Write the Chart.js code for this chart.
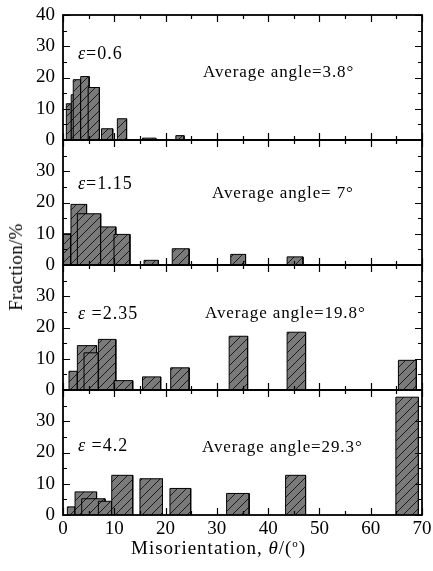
<html>
<head>
    <script src="https://cdn.jsdelivr.net/npm/chart.js"></script>
    <style>
        body { margin: 0; background: white; font-family: 'Liberation Serif', serif; }
        #page { position: relative; width: 433px; height: 571px; overflow: hidden; }
        .panel { position: absolute; left: 0; }
        .panel canvas { display: block; }
        .lbl { position: absolute; font-size: 17px; color: #000; white-space: nowrap; transform: translateY(-50%); }
        .eps { font-size: 18px; letter-spacing: 1px; }
        .avg { letter-spacing: 0.9px; }
        #xtitle { position: absolute; left: 131px; top: 537px; font-size: 19px; letter-spacing: 1px; white-space: nowrap; }
        #ytitle { position: absolute; left: 16px; top: 267px; font-size: 19px; letter-spacing: 0.3px; white-space: nowrap;
                  transform: translate(-50%, -50%) rotate(-90deg); }
    </style>
</head>
<body>
<div id="page">
    <div class="panel" style="top:3px"><canvas id="c0" width="433" height="149"></canvas></div>
    <div class="panel" style="top:128px"><canvas id="c1" width="433" height="149"></canvas></div>
    <div class="panel" style="top:253px"><canvas id="c2" width="433" height="149"></canvas></div>
    <div class="panel" style="top:378px"><canvas id="c3" width="433" height="179"></canvas></div>

    <div class="lbl eps" style="left:78px; top:53px"><i>ε</i>=0.6</div>
    <div class="lbl eps" style="left:78px; top:183px"><i>ε</i>=1.15</div>
    <div class="lbl eps" style="left:78px; top:313px"><i>ε</i> =2.35</div>
    <div class="lbl eps" style="left:78px; top:445px"><i>ε</i> =4.2</div>

    <div class="lbl avg" style="left:203px; top:72px">Average angle=3.8°</div>
    <div class="lbl avg" style="left:212px; top:193px">Average angle= 7°</div>
    <div class="lbl avg" style="left:205px; top:313px">Average angle=19.8°</div>
    <div class="lbl avg" style="left:202px; top:447px">Average angle=29.3°</div>

    <div id="xtitle">Misorientation, <i>θ</i>/(<sup style="font-size:11px">o</sup>)</div>
    <div id="ytitle">Fraction/%</div>
</div>

<script>
    // misorientation bins (degrees) and fraction (%) for each strain
    const lo06   = [0.65, 1.6, 2.0, 3.45, 4.9, 7.5, 10.6, 15.5, 22.0];
    const hi06   = [1.65, 3.0, 3.45, 5.1, 7.1, 9.7, 12.4, 18.1, 23.6];
    const frac06 = [11.6, 14.5, 19.3, 20.3, 16.8, 3.6, 6.8, 0.6, 1.4];

    const lo115   = [0.0, 1.55, 2.8, 7.35, 9.95, 15.8, 21.3, 32.7, 43.7];
    const hi115   = [1.5, 4.6, 7.35, 10.3, 13.05, 18.6, 24.6, 35.6, 46.8];
    const frac115 = [10.0, 19.4, 16.4, 12.2, 9.8, 1.5, 5.2, 3.4, 2.6];

    const lo235   = [1.17, 2.8, 4.1, 6.9, 9.95, 15.5, 21.0, 32.4, 43.7, 65.4];
    const hi235   = [2.8, 6.55, 6.9, 10.3, 13.6, 19.05, 24.6, 36.0, 47.3, 68.9];
    const frac235 = [6.0, 14.2, 11.9, 16.2, 3.0, 4.2, 7.1, 17.2, 18.5, 9.5];

    const lo42   = [0.85, 2.35, 3.65, 6.9, 9.5, 15.0, 20.85, 31.9, 43.4, 64.9];
    const hi42   = [2.35, 6.55, 8.2, 9.5, 13.6, 19.4, 24.9, 36.3, 47.3, 69.3];
    const frac42 = [2.6, 7.4, 5.2, 4.4, 12.7, 11.6, 8.5, 6.9, 12.7, 37.7];

    const xTicksMax = 70;
    const yTicksMax = 40;

    // gray fill with black "///" hatching
    function makeHatch() {
        const s = 9;
        const c = document.createElement('canvas');
        c.width = s; c.height = s;
        const g = c.getContext('2d');
        g.fillStyle = '#7a7a7a';
        g.fillRect(0, 0, s, s);
        g.strokeStyle = '#111';
        g.lineWidth = 0.9;
        g.beginPath();
        g.moveTo(0, s); g.lineTo(s, 0);
        g.moveTo(-1, 1); g.lineTo(1, -1);
        g.moveTo(s - 1, s + 1); g.lineTo(s + 1, s - 1);
        g.stroke();
        return g.createPattern(c, 'repeat');
    }
    const hatch = makeHatch();

    function barSets(lo, hi, frac) {
        return frac.map((f, k) => ({
            data: [{x: lo[k], y: 0}, {x: lo[k], y: f}, {x: hi[k], y: f}, {x: hi[k], y: 0}],
            fill: 'origin',
            backgroundColor: hatch,
            borderColor: '#000',
            borderWidth: 1,
            pointRadius: 0,
            tension: 0,
            order: -k
        }));
    }

    // frame and inward ticks
    const frameTicks = {
        id: 'frameTicks',
        afterDraw(chart) {
            const {ctx, chartArea: a, scales: {x, y}} = chart;
            ctx.save();
            ctx.strokeStyle = '#000';
            ctx.lineWidth = 1.2;
            ctx.beginPath();
            for (let v = x.min; v <= x.max; v += 5) {
                const px = Math.round(x.getPixelForValue(v)) + 0.5;
                const len = v % 10 === 0 ? 7 : 4;
                ctx.moveTo(px, a.bottom); ctx.lineTo(px, a.bottom - len);
                ctx.moveTo(px, a.top); ctx.lineTo(px, a.top + len);
            }
            for (let v = y.min; v <= y.max; v += 5) {
                const py = Math.round(y.getPixelForValue(v)) + 0.5;
                const len = v % 10 === 0 ? 7 : 4;
                ctx.moveTo(a.left, py); ctx.lineTo(a.left + len, py);
                ctx.moveTo(a.right, py); ctx.lineTo(a.right - len, py);
            }
            ctx.stroke();
            ctx.lineWidth = 1.8;
            ctx.strokeRect(a.left, a.top, a.right - a.left, a.bottom - a.top);
            ctx.restore();
        }
    };

    const tickFont = {family: 'Liberation Serif', size: 19};

    function makePanel(id, lo, hi, frac, idx) {
        const last = idx === 3;
        new Chart(document.getElementById(id), {
            type: 'line',
            data: {datasets: barSets(lo, hi, frac)},
            options: {
                responsive: false,
                animation: false,
                layout: {padding: {top: 12, right: 11, bottom: last ? 0 : 12, left: 0}},
                plugins: {legend: {display: false}, tooltip: {enabled: false}},
                scales: {
                    x: {
                        type: 'linear', min: 0, max: xTicksMax,
                        display: last,
                        grid: {display: false, drawTicks: false},
                        border: {display: false},
                        ticks: {stepSize: 10, font: tickFont, color: '#000', padding: 3, maxRotation: 0, autoSkip: false},
                        afterFit: s => {
                            if (last) s.height = 42;
                            s.paddingLeft = 0; s.paddingRight = 0;
                        }
                    },
                    y: {
                        min: 0, max: yTicksMax,
                        grid: {display: false, drawTicks: false},
                        border: {display: false},
                        ticks: {
                            stepSize: 10, font: tickFont, color: '#000', padding: 8, autoSkip: false,
                            callback: v => (idx > 0 && v === yTicksMax) ? '' : v
                        },
                        afterFit: s => {
                            s.width = 63;
                            s.paddingTop = 0; s.paddingBottom = 0;
                        }
                    }
                }
            },
            plugins: [frameTicks]
        });
    }

    makePanel('c0', lo06, hi06, frac06, 0);
    makePanel('c1', lo115, hi115, frac115, 1);
    makePanel('c2', lo235, hi235, frac235, 2);
    makePanel('c3', lo42, hi42, frac42, 3);
</script>
</body>
</html>
